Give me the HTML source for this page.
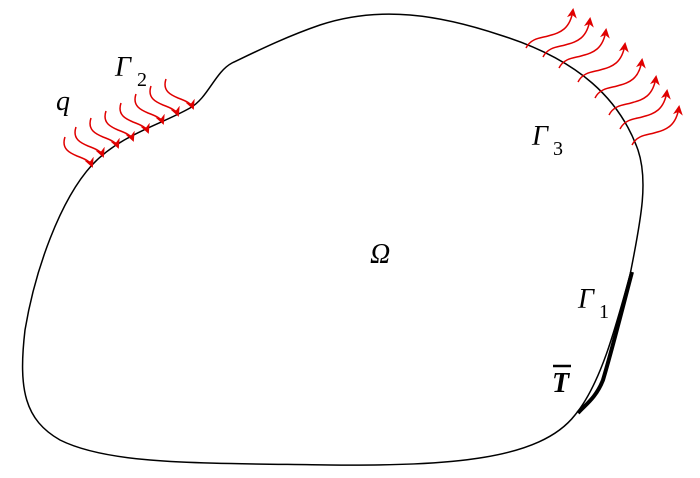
<!DOCTYPE html>
<html><head><meta charset="utf-8"><style>
html,body{margin:0;padding:0;background:#fff;}
svg{display:block}
text{font-family:"Liberation Serif",serif;fill:#000}
.it{font-style:italic}
.sub{font-style:normal}
</style></head><body>
<svg width="700" height="478" viewBox="0 0 700 478" xmlns="http://www.w3.org/2000/svg">
<defs>
<marker id="ah" markerWidth="10" markerHeight="10" refX="8" refY="5" orient="auto" markerUnits="userSpaceOnUse">
<path d="M0,0 L10,5 L0,10 L3,5 Z" fill="#e00000"/>
</marker>
</defs>
<path d="M 92,165 C 60,200 35,270 25,330 C 18,390 25,420 60,440 C 110,465 200,463 330,465 C 450,466 540,460 575,415 C 600,385 615,330 630,275 C 642,215 648,180 638,150 C 620,100 580,60 500,35 C 440,15 380,5 320,25 C 285,37 255,52 232,63 C 215,72 208,98 190,108 C 160,125 120,135 92,165 Z" fill="none" stroke="#000" stroke-width="1.5"/>
<path d="M632,272 C 622,310 612,350 603,380 C 596,398 585,405 578,413" fill="none" stroke="#000" stroke-width="4"/>
<g fill="none" stroke="#e00000" stroke-width="1.5" marker-end="url(#ah)">
<path d="M65,137 c -4,12 5,16 12,19 c 8,3 13,5 15,10"/>
<path d="M76,127 c -4,12 5,16 12,19 c 8,3 13,5 15,10"/>
<path d="M91,118 c -4,12 5,16 12,19 c 8,3 13,5 15,10"/>
<path d="M106,111 c -4,12 5,16 12,19 c 8,3 13,5 15,10"/>
<path d="M121,103 c -4,12 5,16 12,19 c 8,3 13,5 15,10"/>
<path d="M136,94 c -4,12 5,16 12,19 c 8,3 13,5 15,10"/>
<path d="M151,86 c -4,12 5,16 12,19 c 8,3 13,5 15,10"/>
<path d="M166,79 c -4,12 5,16 12,19 c 8,3 13,5 15,10"/>
<path d="M526,48 c 5,-10 15,-10 22,-12 c 10,-3 22,-5 25,-26"/>
<path d="M543,57 c 5,-10 15,-10 22,-12 c 10,-3 22,-5 25,-26"/>
<path d="M559,68 c 5,-10 15,-10 22,-12 c 10,-3 22,-5 25,-26"/>
<path d="M578,82 c 5,-10 15,-10 22,-12 c 10,-3 22,-5 25,-26"/>
<path d="M595,98 c 5,-10 15,-10 22,-12 c 10,-3 22,-5 25,-26"/>
<path d="M609,115 c 5,-10 15,-10 22,-12 c 10,-3 22,-5 25,-26"/>
<path d="M620,129 c 5,-10 15,-10 22,-12 c 10,-3 22,-5 25,-26"/>
<path d="M632,145 c 5,-10 15,-10 22,-12 c 10,-3 22,-5 25,-26"/>
</g>
<text class="it" x="56" y="110" font-size="28">q</text>
<text class="it" x="115" y="76" font-size="28">Γ</text><text class="sub" x="137" y="86" font-size="20">2</text>
<text class="it" x="532" y="145" font-size="28">Γ</text><text class="sub" x="553" y="155" font-size="20">3</text>
<text class="it" x="370" y="263" font-size="28">Ω</text>
<text class="it" x="578" y="308" font-size="28">Γ</text><text class="sub" x="599" y="318" font-size="20">1</text>
<text class="it" x="552" y="392" font-size="28" font-weight="bold">T</text>
<line x1="553" y1="366" x2="571" y2="366" stroke="#000" stroke-width="2.5"/>
</svg>
</body></html>
